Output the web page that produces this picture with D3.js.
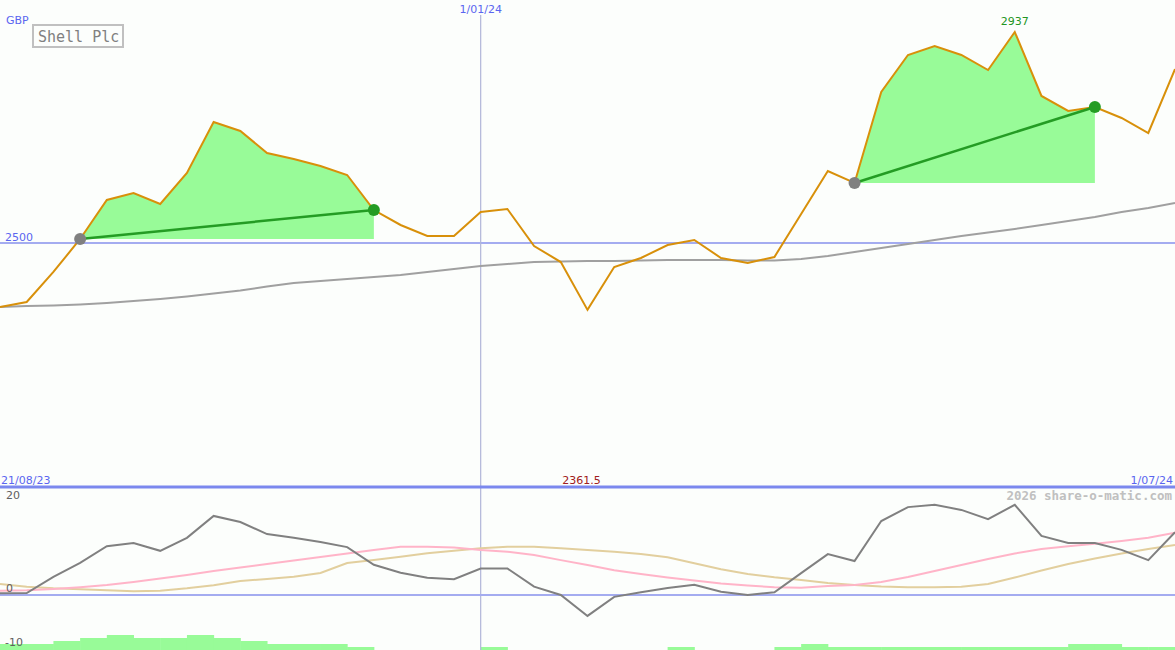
<!DOCTYPE html>
<html><head><meta charset="utf-8">
<script src="https://cdn.jsdelivr.net/npm/d3@7"></script>
<style>
html,body{margin:0;padding:0;background:#fcfefc;}
svg{display:block;}
</style></head><body>
<svg id="c" width="1175" height="650"></svg>
<script>
// ---- data (weekly, 45 points) ----
const title = "Shell Plc";
const currency = "GBP";
const dateLabels = ["21/08/23", "1/01/24", "1/07/24"];
const dateIdx = [0, 18, 44];
const price = [2367.5,2377.8,2440,2508.3,2589.1,2603.6,2580.8,2645,2750.6,2732,
  2686.4,2674,2659.5,2640.8,2568.3,2537.3,2514.5,2514.5,2564.2,2570.4,
  2493.8,2460.6,2361.5,2450.3,2468.9,2495.9,2506.2,2468.9,2458.6,2471,
  2560.1,2649.1,2624.3,2812.7,2889.4,2908,2889.4,2858.3,2937,2804.5,
  2773.4,2781.7,2758.9,2727.8,2860.3];
const movingAvg = [2367.5,2369.5,2370.6,2372.6,2375.7,2379.9,2384,2389.2,2395.4,2401.6,
  2409.9,2417.2,2421.3,2425.4,2429.6,2433.7,2439.9,2446.2,2452.4,2456.5,
  2460.6,2461.7,2462.7,2462.7,2463.8,2464.8,2464.8,2464.8,2463.8,2463.8,
  2466.9,2473.1,2481.4,2489.6,2497.9,2506.2,2514.5,2521.7,2529,2537.3,
  2545.6,2553.8,2564.2,2572.5,2582.8];
const momentum = [0.37,0.43,3.9,6.9,10.5,11.2,9.5,12.3,17.0,15.7,
  13.1,12.3,11.4,10.3,6.5,4.8,3.7,3.4,5.7,5.7,
  1.8,0,-4.5,-0.4,0.6,1.5,2.2,0.7,0,0.6,
  4.7,8.8,7.3,15.9,18.9,19.4,18.3,16.3,19.4,12.7,
  11.2,11.2,9.7,7.5,13.5];
const signalFast = [0.92,1.01,1.29,1.66,2.15,2.8,3.55,4.3,5.16,5.91,
  6.67,7.42,8.17,8.92,9.68,10.4,10.4,10.2,9.7,9.3,
  8.6,7.5,6.45,5.3,4.5,3.76,3.1,2.47,2.04,1.66,
  1.57,1.94,2.15,2.8,3.87,5.16,6.45,7.74,8.92,9.89,
  10.5,11.0,11.6,12.3,13.4];
const signalSlow = [2.37,1.78,1.44,1.23,1.01,0.8,0.92,1.44,2.09,3.01,
  3.44,3.94,4.73,6.88,7.53,8.24,8.97,9.53,10.04,10.39,
  10.39,10.04,9.68,9.31,8.82,8.11,6.82,5.53,4.52,3.81,
  3.23,2.58,2.15,1.83,1.66,1.66,1.78,2.37,3.76,5.27,
  6.67,7.85,8.92,9.89,10.75];
const histLevels = [2,2,3,4,5,4,4,5,4,3,
  2,2,2,1,0,0,0,0,1,0,
  0,0,0,0,0,1,0,0,0,1,
  2,1,1,1,1,1,1,1,1,1,
  2,2,1,1,0];
const gains = [{from:3,to:14},{from:32,to:41}];
const priceRef = 2500;
const oscTicks = [20, 0, -10];
const lowLabel = "2361.5", highLabel = "2937";
const credit = "2026 share-o-matic.com";

// ---- scales ----
const W = 1175, H = 650;
const svg = d3.select("#c");
const x = d3.scaleLinear().domain([0, price.length - 1]).range([0, W]);
const y = d3.scaleLinear().domain([2500, 2937]).range([243, 32]);
const yo = d3.scaleLinear().domain([0, 20]).range([595, 502]);
const yb = d3.scaleLinear().domain([0, 5]).range([650, 635]);

svg.append("rect").attr("width", W).attr("height", H).attr("fill", "#fcfefc");

// histogram bars (bottom)
const bars = histLevels.map((v, i) => ({v, i})).filter(d => d.v > 0);
svg.append("g").selectAll("rect").data(bars).join("rect")
  .attr("x", d => x(d.i)).attr("width", x(1) - x(0) + 0.5)
  .attr("y", d => yb(d.v)).attr("height", d => yb(0) - yb(d.v))
  .attr("fill", "#98fb98");

// reference line 2500
svg.append("line").attr("x1", 0).attr("x2", W).attr("y1", y(priceRef)).attr("y2", y(priceRef))
  .attr("stroke", "#a4acf0").attr("stroke-width", 2);

// vertical date line
svg.append("line").attr("x1", x(dateIdx[1])).attr("x2", x(dateIdx[1]))
  .attr("y1", 15).attr("y2", H).attr("stroke", "#b0b6d8").attr("stroke-width", 1.2);

// gain areas
gains.forEach(g => {
  const base = price[g.from];
  const pts = d3.range(g.from, g.to + 1).map(i => [x(i), y(price[i])]);
  pts.push([x(g.to), y(base)]);
  svg.append("path").attr("d", d3.line()(pts) + "Z").attr("fill", "#98fb98");
});

// moving average
svg.append("path").datum(movingAvg)
  .attr("d", d3.line().x((d, i) => x(i)).y(d => y(d)))
  .attr("fill", "none").attr("stroke", "#a0a0a0").attr("stroke-width", 2);

// price line
svg.append("path").datum(price)
  .attr("d", d3.line().x((d, i) => x(i)).y(d => y(d)))
  .attr("fill", "none").attr("stroke", "#d8900a").attr("stroke-width", 2);

// gain lines and dots
gains.forEach(g => {
  svg.append("line").attr("x1", x(g.from)).attr("y1", y(price[g.from]))
    .attr("x2", x(g.to)).attr("y2", y(price[g.to]))
    .attr("stroke", "#249c24").attr("stroke-width", 2.5);
  svg.append("circle").attr("cx", x(g.from)).attr("cy", y(price[g.from])).attr("r", 6).attr("fill", "#808080");
  svg.append("circle").attr("cx", x(g.to)).attr("cy", y(price[g.to])).attr("r", 6).attr("fill", "#249c24");
});

// lower panel separators
svg.append("line").attr("x1", 0).attr("x2", W).attr("y1", 487).attr("y2", 487)
  .attr("stroke", "#7b88ee").attr("stroke-width", 3);
svg.append("line").attr("x1", 0).attr("x2", W).attr("y1", yo(0)).attr("y2", yo(0))
  .attr("stroke", "#a4acf0").attr("stroke-width", 2);

// oscillator lines
const lo = d3.line().x((d, i) => x(i)).y(d => yo(d));
svg.append("path").datum(signalSlow).attr("d", lo).attr("fill", "none")
  .attr("stroke", "#e2cf9e").attr("stroke-width", 2);
svg.append("path").datum(signalFast).attr("d", lo).attr("fill", "none")
  .attr("stroke", "#ffb4c8").attr("stroke-width", 2);
svg.append("path").datum(momentum).attr("d", lo).attr("fill", "none")
  .attr("stroke", "#808080").attr("stroke-width", 2);

// ---- texts ----
const T = (t, xx, yy, fill, anchor, size, fam, weight) => svg.append("text")
  .attr("x", xx).attr("y", yy).attr("fill", fill).attr("text-anchor", anchor || "start")
  .attr("font-size", size || 11).attr("font-family", fam || "DejaVu Sans")
  .attr("font-weight", weight || "normal").text(t);

T(currency, 6, 24, "#5a66f0");
T(dateLabels[1], x(dateIdx[1]), 13, "#5a66f0", "middle");
T(highLabel, x(price.indexOf(d3.max(price))), 25, "#229522", "middle");
T(String(priceRef), 5, y(priceRef) - 2, "#5a66f0");
T(dateLabels[0], 1, 484, "#5a66f0");
T(lowLabel, x(price.indexOf(d3.min(price))) - 6, 484, "#a02020", "middle");
T(dateLabels[2], W - 2, 484, "#5a66f0", "end");
T(credit, W - 3, 500, "#c0c0c0", "end", 12.5, "DejaVu Sans Mono", "bold");
oscTicks.forEach(v => {
  const yy = v === -10 ? 646 : yo(v) - 3;
  T(String(v), v < 0 ? 5 : 6, yy, "#606060");
});

// legend box
svg.append("rect").attr("x", 33).attr("y", 25).attr("width", 90).attr("height", 22)
  .attr("fill", "#fcfefc").attr("stroke", "#c0c0c0").attr("stroke-width", 2);
T(title, 38, 42, "#808080", "start", 15, "DejaVu Sans Mono");
</script>
</body></html>
